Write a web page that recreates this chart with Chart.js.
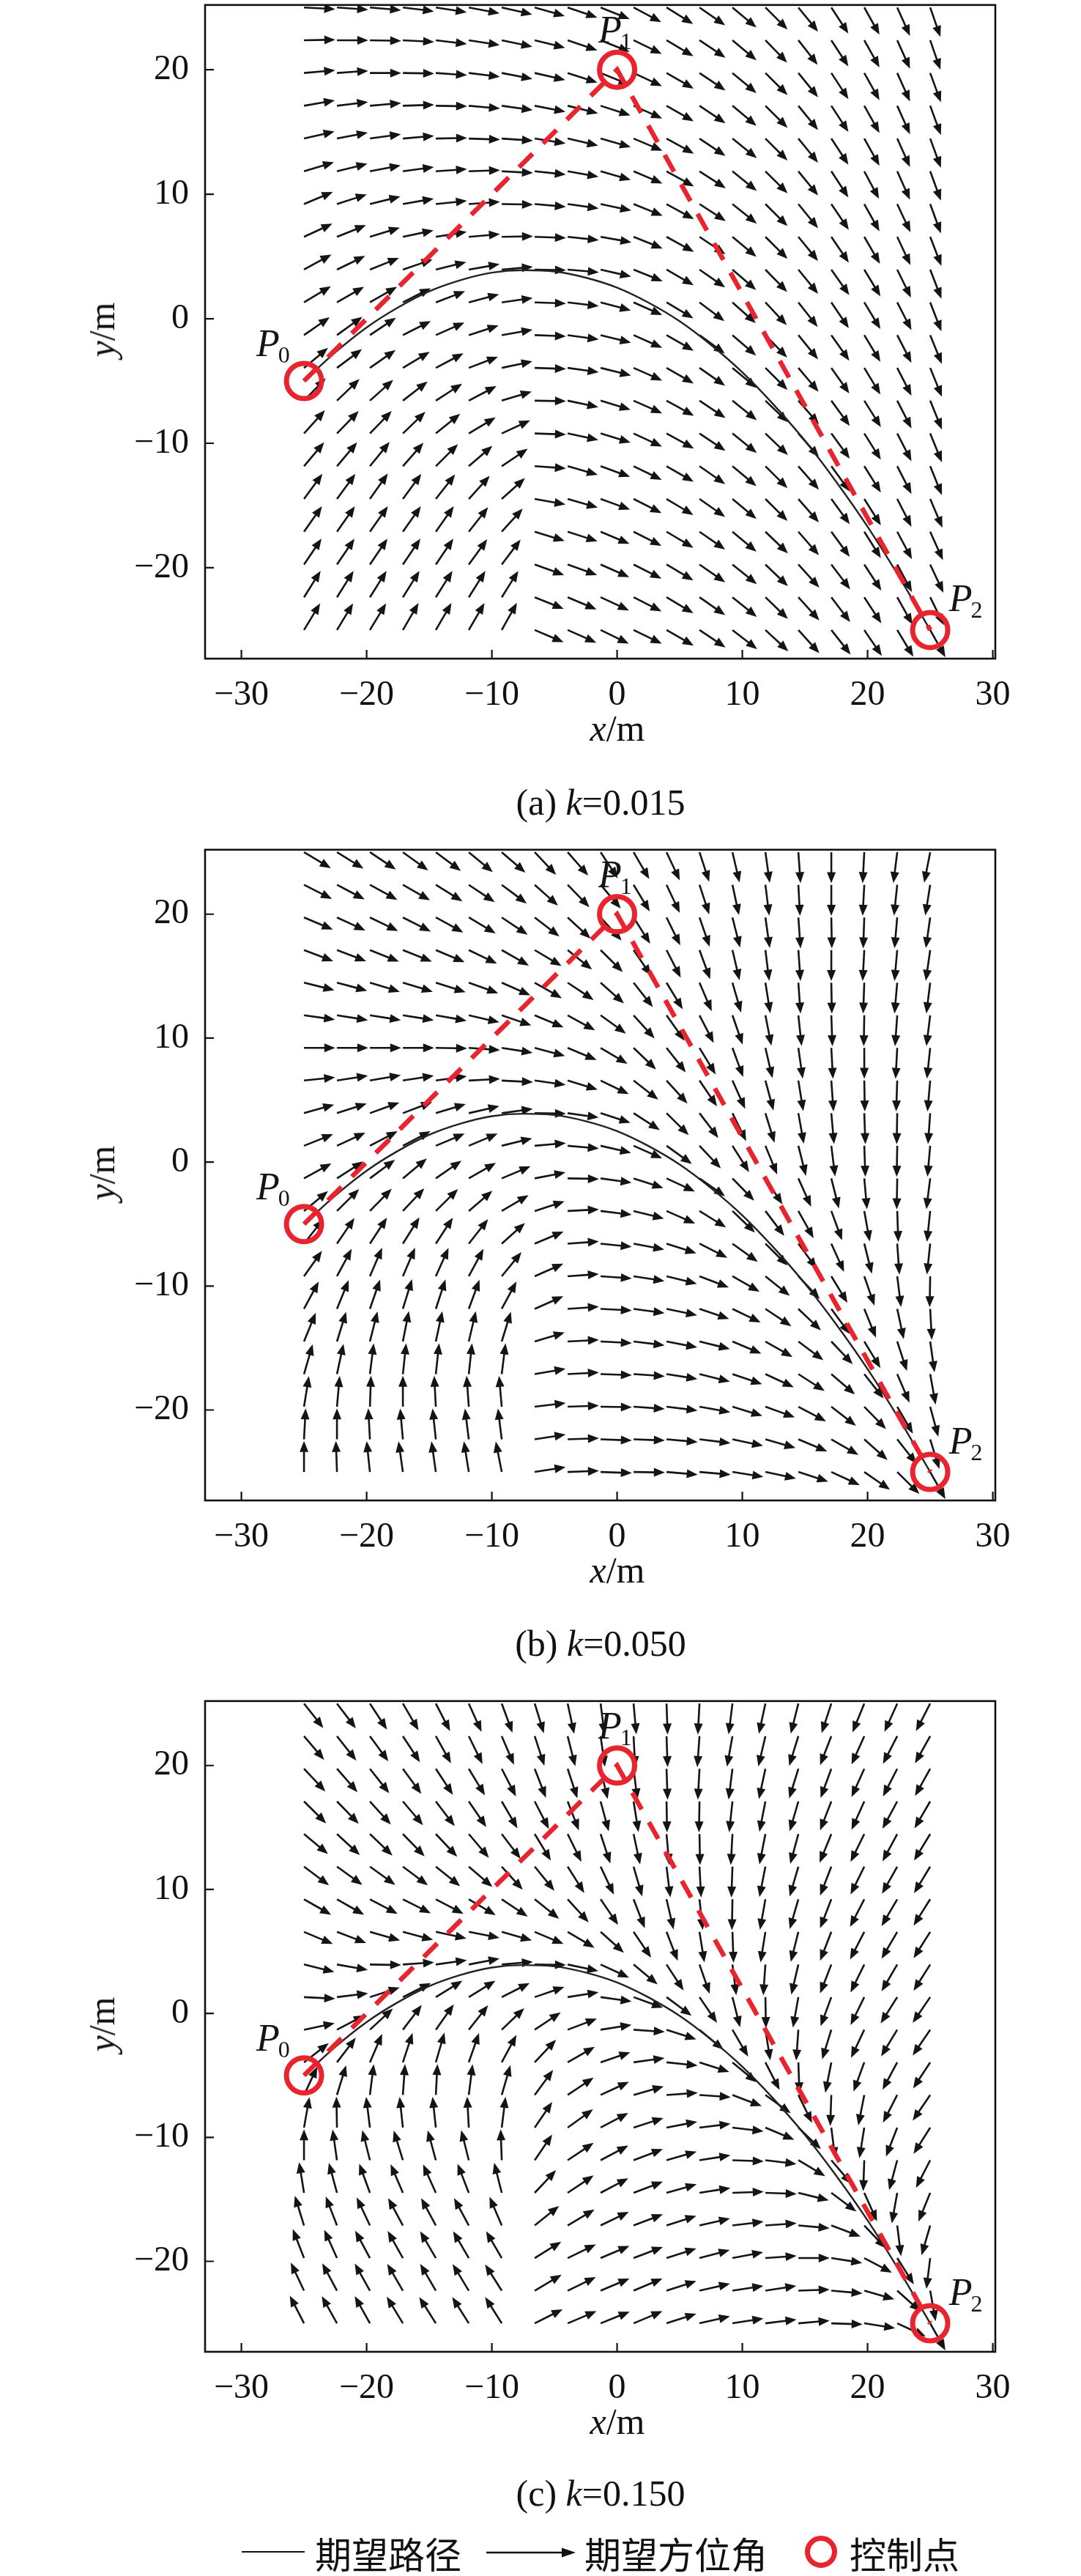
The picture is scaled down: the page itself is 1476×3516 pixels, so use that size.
<!DOCTYPE html>
<html>
<head>
<meta charset="utf-8">
<script src="https://cdn.jsdelivr.net/npm/chart.js@4.4.1/dist/chart.umd.min.js"></script>
<style>
  html, body { margin: 0; padding: 0; background: #fff; }
  body { width: 1476px; height: 3516px; position: relative; overflow: hidden;
         font-family: 'Liberation Serif', 'Times New Roman', serif; color: #111; }
  .panel { position: absolute; left: 0; width: 1476px; }
  .txt { position: absolute; font-size: 50px; white-space: nowrap; transform: translate(-50%, -50%); }
  .ylab { transform: translate(-50%, -50%) rotate(-90deg); }
  .cjk { position: absolute; font-family: 'Noto Sans CJK SC', sans-serif; font-size: 50px; line-height: 1; transform: translateY(-50%); white-space: nowrap; }
</style>
</head>
<body>

<div class="panel" id="pa"><canvas id="ca"></canvas></div>
<div class="panel" id="pb"><canvas id="cb"></canvas></div>
<div class="panel" id="pc"><canvas id="cc"></canvas></div>

<div class="txt" style="left:843px;top:994px"><i>x</i>/m</div>
<div class="txt ylab" style="left:139px;top:450px"><i>y</i>/m</div>
<div class="txt" style="left:820px;top:1095px">(a) <i>k</i>=0.015</div>

<div class="txt" style="left:843px;top:2143px"><i>x</i>/m</div>
<div class="txt ylab" style="left:139px;top:1601px"><i>y</i>/m</div>
<div class="txt" style="left:820px;top:2243px">(b) <i>k</i>=0.050</div>

<div class="txt" style="left:843px;top:3305px"><i>x</i>/m</div>
<div class="txt ylab" style="left:139px;top:2763px"><i>y</i>/m</div>
<div class="txt" style="left:820px;top:3403px">(c) <i>k</i>=0.150</div>

<!-- legend -->
<div style="position:absolute;left:330px;top:3482px;width:86px;border-top:2px solid #111"></div>
<div class="cjk" style="left:430px;top:3484px">期望路径</div>
<svg style="position:absolute;left:662px;top:3470px" width="126" height="28">
  <line x1="2" y1="14" x2="108" y2="14" stroke="#111" stroke-width="2.6"/>
  <polygon points="124,14 105,7.5 105,20.5" fill="#111"/>
</svg>
<div class="cjk" style="left:798px;top:3484px">期望方位角</div>
<div style="position:absolute;left:1099px;top:3461px;width:30px;height:30px;border:7px solid #e8242e;border-radius:50%"></div>
<div class="cjk" style="left:1160px;top:3484px">控制点</div>

<script>
// grid of arrow tails (x left to right, y top to bottom)
const gridX = [-25, -22.368, -19.737, -17.105, -14.474, -11.842, -9.211, -6.579, -3.947, -1.316,
               1.316, 3.947, 6.579, 9.211, 11.842, 14.474, 17.105, 19.737, 22.368, 25];
const gridY = [25, 22.368, 19.737, 17.105, 14.474, 11.842, 9.211, 6.579, 3.947, 1.316,
               -1.316, -3.947, -6.579, -9.211, -11.842, -14.474, -17.105, -19.737, -22.368, -25];

// desired heading (deg, counter-clockwise from +x), one row per gridY value
const headingA = [
  [-3,-4,-5,-7,-9,-11,-13,-16,-19,-22,-28,-32,-35,-40,-45,-51,-57,-61,-66,-71],
  [1,0,-1,-3,-7,-9,-12,-14,-19,-22,-26,-31,-34,-40,-46,-52,-57,-61,-66,-71],
  [5,4,0,-1,-4,-7,-11,-13,-18,-22,-25,-30,-34,-40,-45,-51,-57,-61,-66,-70],
  [10,7,5,2,-1,-5,-8,-11,-14,-18,-24,-30,-34,-40,-45,-51,-57,-61,-66,-70],
  [13,11,8,5,1,-2,-4,-9,-13,-16,-23,-29,-34,-39,-45,-51,-57,-61,-66,-70],
  [17,14,11,8,4,2,-3,-6,-10,-16,-23,-29,-33,-39,-45,-51,-57,-62,-66,-70],
  [23,18,14,10,6,4,-1,-5,-8,-12,-22,-29,-33,-39,-45,-51,-56,-61,-65,-70],
  [25,22,17,12,9,5,1,-2,-6,-10,-22,-29,-34,-40,-45,-51,-56,-60,-65,-69],
  [29,26,22,19,14,10,5,-1,-5,-13,-22,-30,-35,-41,-46,-51,-55,-59,-64,-69],
  [31,30,30,27,21,15,8,-2,-7,-15,-24,-31,-37,-42,-47,-52,-56,-59,-63,-69],
  [35,36,34,27,24,18,10,-2,-8,-14,-24,-30,-36,-41,-46,-51,-55,-59,-63,-68],
  [40,37,35,31,28,21,12,-2,-8,-14,-24,-30,-35,-40,-45,-50,-55,-59,-63,-68],
  [46,44,42,38,33,28,17,-1,-12,-17,-24,-29,-34,-39,-44,-49,-54,-58,-63,-68],
  [48,46,46,44,39,31,25,-2,-12,-17,-25,-29,-34,-39,-44,-49,-54,-58,-63,-68],
  [50,50,51,49,45,41,34,-4,-16,-20,-26,-30,-35,-40,-45,-49,-54,-58,-63,-68],
  [54,54,55,54,52,48,42,-10,-16,-20,-27,-31,-35,-40,-45,-49,-54,-58,-63,-67],
  [55,55,55,55,55,52,48,-17,-18,-23,-27,-31,-35,-40,-44,-49,-54,-58,-62,-66],
  [56,56,56,56,56,54,53,-20,-20,-24,-27,-31,-35,-39,-44,-48,-53,-57,-62,-65],
  [58,58,58,58,58,58,58,-22,-23,-25,-27,-31,-35,-39,-44,-48,-53,-57,-61,-64],
  [59,59,59,60,60,60,61,-23,-24,-26,-26,-30,-34,-38,-43,-48,-52,-56,-59,-61]
];
const headingB = [
  [-31,-32,-34,-36,-37,-40,-41,-47,-49,-57,-60,-65,-72,-77,-82,-86,-90,-93,-97,-101],
  [-27,-28,-29,-30,-32,-34,-37,-42,-46,-50,-59,-65,-72,-78,-83,-87,-90,-93,-96,-99],
  [-23,-25,-26,-27,-29,-31,-34,-38,-43,-48,-58,-64,-71,-76,-82,-86,-89,-92,-95,-98],
  [-21,-21,-22,-22,-23,-26,-30,-31,-39,-45,-56,-63,-70,-77,-83,-86,-90,-93,-95,-98],
  [-14,-15,-17,-17,-18,-20,-24,-30,-34,-42,-52,-59,-67,-74,-81,-86,-89,-92,-95,-97],
  [-8,-9,-9,-9,-10,-13,-19,-23,-29,-36,-48,-55,-63,-71,-79,-84,-88,-91,-94,-97],
  [0,0,0,0,-1,-4,-9,-15,-23,-31,-44,-52,-59,-70,-77,-82,-87,-90,-93,-96],
  [6,9,10,9,8,3,-3,-8,-17,-26,-38,-48,-56,-66,-75,-81,-86,-89,-92,-95],
  [16,18,20,21,17,13,8,-1,-8,-18,-33,-45,-53,-64,-73,-80,-85,-88,-91,-94],
  [22,25,28,28,23,23,14,5,-5,-13,-24,-36,-47,-58,-68,-76,-83,-88,-91,-95],
  [29,33,37,40,35,30,23,11,-1,-8,-18,-25,-35,-46,-57,-66,-76,-85,-91,-97],
  [40,45,46,47,45,41,31,18,3,-7,-14,-24,-32,-44,-53,-61,-70,-80,-88,-96],
  [52,56,57,58,57,52,42,23,4,-6,-11,-18,-27,-36,-45,-54,-66,-76,-86,-96],
  [55,62,67,67,66,62,51,24,4,-4,-9,-14,-21,-30,-39,-47,-59,-71,-83,-91],
  [62,68,71,73,72,70,62,24,4,-3,-8,-12,-19,-26,-34,-44,-54,-68,-78,-87],
  [68,73,76,79,78,77,73,17,3,-3,-7,-11,-14,-23,-30,-37,-47,-59,-72,-82],
  [74,78,83,84,84,84,83,10,3,-2,-4,-9,-14,-19,-25,-33,-41,-52,-67,-80],
  [81,85,88,90,93,94,95,7,2,-1,-4,-7,-10,-17,-20,-28,-38,-46,-60,-75],
  [87,90,93,95,96,97,97,9,2,-2,-2,-5,-7,-12,-16,-23,-30,-42,-52,-73],
  [90,92,96,98,98,99,101,9,2,-2,-1,-5,-5,-9,-12,-18,-25,-35,-45,-61]
];
const headingC = [
  [-52,-53,-57,-60,-63,-66,-70,-73,-78,-83,-85,-88,-93,-97,-102,-104,-108,-112,-114,-117],
  [-50,-52,-54,-57,-61,-64,-67,-72,-76,-82,-87,-88,-94,-100,-103,-107,-111,-114,-117,-119],
  [-47,-49,-52,-54,-57,-59,-63,-69,-72,-77,-83,-88,-93,-97,-102,-107,-110,-114,-117,-119],
  [-45,-46,-48,-50,-53,-56,-60,-63,-69,-75,-81,-89,-91,-96,-101,-106,-111,-114,-118,-120],
  [-40,-43,-44,-46,-47,-50,-53,-59,-64,-72,-78,-85,-89,-93,-101,-105,-112,-116,-118,-121],
  [-37,-36,-36,-37,-39,-41,-48,-51,-58,-65,-74,-83,-87,-92,-101,-106,-111,-116,-119,-121],
  [-30,-30,-28,-27,-28,-31,-34,-39,-48,-56,-69,-77,-84,-91,-100,-106,-111,-117,-120,-122],
  [-23,-21,-16,-15,-12,-11,-16,-23,-31,-42,-56,-69,-81,-88,-99,-104,-111,-117,-120,-122],
  [-14,-10,-1,4,8,11,5,-1,-12,-25,-40,-57,-71,-83,-94,-103,-111,-116,-120,-122],
  [-3,7,18,27,32,32,27,19,9,-8,-20,-37,-56,-76,-89,-100,-110,-116,-122,-124],
  [12,28,43,53,55,52,44,34,21,9,-4,-18,-40,-60,-81,-94,-107,-115,-121,-124],
  [38,53,67,72,74,71,62,47,30,19,8,-6,-18,-40,-63,-88,-101,-110,-118,-123],
  [65,73,83,86,87,83,74,54,34,25,16,4,-4,-21,-36,-64,-92,-101,-117,-124],
  [80,91,97,96,96,93,83,56,36,28,18,11,7,-7,-23,-44,-83,-99,-111,-122],
  [90,98,104,107,105,104,92,56,34,28,21,16,9,-2,-7,-31,-50,-92,-105,-117],
  [99,105,110,113,114,111,104,47,34,28,21,16,9,2,-2,-14,-37,-66,-100,-112],
  [107,111,115,118,118,118,113,39,31,26,21,18,13,7,4,-5,-21,-47,-83,-106],
  [111,114,118,119,120,120,120,32,26,23,21,18,15,11,4,0,-9,-28,-58,-97],
  [115,118,119,120,120,121,122,31,26,23,23,18,13,9,9,2,-5,-16,-42,-80],
  [117,119,119,121,122,122,122,27,23,22,23,18,13,9,7,5,-2,-9,-25,-61]
];

// desired path
const pathX = [-25, -22.5, -20, -17.5, -15, -12.5, -10, -7.5, -5, -2.5, 0, 2.5, 5, 7.5, 10, 12.5, 15, 17.5, 20, 22.5, 25];
const pathY = [-5, -2.7, -0.7, 0.9, 2.2, 3.1, 3.7, 3.9, 3.8, 3.3, 2.5, 1.3, -0.2, -2.1, -4.3, -6.9, -9.8, -13.1, -16.7, -20.7, -25];

// control points P0, P1, P2
const ctrlX = [-25, 0, 25];
const ctrlY = [-5, 20, -25];
const ctrlName = ['0', '1', '2'];

const xTicks = [-30, -20, -10, 0, 10, 20, 30];
const yTicks = [20, 10, 0, -10, -20];

const RED = '#e8242e';
const INK = '#141414';
const ARROW_LEN = 2.5;          // data units
const LABEL_AT = [[-28.8, -3.0], [-1.5, 22.2], [26.5, -23.5]];   // "P" text anchors

const panels = [
  { box: 'pa', canvas: 'ca', top: 0,    h: 899, heading: headingA },
  { box: 'pb', canvas: 'cb', top: 1153, h: 895, heading: headingB },
  { box: 'pc', canvas: 'cc', top: 2315, h: 895, heading: headingC }
];
const PAD_TOP = 36, X_AXIS_H = 70;

function drawArrow(ctx, x0, y0, x1, y1) {
  const dx = x1 - x0, dy = y1 - y0;
  const len = Math.hypot(dx, dy);
  const ux = dx / len, uy = dy / len;
  const hl = 15, hw = 6;
  const bx = x1 - ux * hl, by = y1 - uy * hl;
  ctx.beginPath();
  ctx.moveTo(x0, y0);
  ctx.lineTo(bx + ux * 2, by + uy * 2);
  ctx.stroke();
  ctx.beginPath();
  ctx.moveTo(x1, y1);
  ctx.lineTo(bx - uy * hw, by + ux * hw);
  ctx.lineTo(bx + uy * hw, by - ux * hw);
  ctx.closePath();
  ctx.fill();
}

function quiver(heading) {
  return {
    id: 'quiver',
    beforeDatasetsDraw(chart) {
      const { ctx, chartArea: a, scales: { x, y } } = chart;
      ctx.save();
      ctx.beginPath();
      ctx.rect(a.left, a.top, a.right - a.left, a.bottom - a.top);
      ctx.clip();
      ctx.strokeStyle = INK;
      ctx.fillStyle = INK;
      ctx.lineWidth = 2.6;
      heading.forEach((row, j) => {
        row.forEach((deg, i) => {
          const r = deg * Math.PI / 180;
          const x0 = x.getPixelForValue(gridX[i]);
          const y0 = y.getPixelForValue(gridY[j]);
          const x1 = x.getPixelForValue(gridX[i] + ARROW_LEN * Math.cos(r));
          const y1 = y.getPixelForValue(gridY[j] + ARROW_LEN * Math.sin(r));
          drawArrow(ctx, x0, y0, x1, y1);
        });
      });
      ctx.restore();
    }
  };
}

const frame = {
  id: 'frame',
  afterDatasetsDraw(chart) {
    const { ctx, chartArea: a, scales: { x, y } } = chart;
    ctx.save();
    // P labels
    ctx.fillStyle = INK;
    ctx.textBaseline = 'alphabetic';
    LABEL_AT.forEach((p, k) => {
      const px = x.getPixelForValue(p[0]);
      const py = y.getPixelForValue(p[1]);
      ctx.font = 'italic 52px "Liberation Serif"';
      ctx.fillText('P', px, py);
      const w = ctx.measureText('P').width;
      ctx.font = '32px "Liberation Serif"';
      ctx.fillText(ctrlName[k], px + w - 2, py + 9);
    });
    // box and inward ticks
    ctx.strokeStyle = '#111';
    ctx.lineWidth = 2.6;
    ctx.strokeRect(a.left, a.top, a.right - a.left, a.bottom - a.top);
    ctx.lineWidth = 2.2;
    ctx.beginPath();
    xTicks.forEach(v => {
      const px = x.getPixelForValue(v);
      ctx.moveTo(px, a.bottom);
      ctx.lineTo(px, a.bottom - 12);
    });
    yTicks.forEach(v => {
      const py = y.getPixelForValue(v);
      ctx.moveTo(a.left, py);
      ctx.lineTo(a.left + 12, py);
    });
    ctx.stroke();
    ctx.restore();
  }
};

const tickFont = { family: 'Liberation Serif', size: 48 };
const minus = v => String(v).replace('-', '\u2212');

panels.forEach(p => {
  const box = document.getElementById(p.box);
  box.style.top = (p.top - PAD_TOP) + 'px';
  box.style.height = (p.h + PAD_TOP + X_AXIS_H) + 'px';

  const ctrlPts = ctrlX.map((v, i) => ({ x: v, y: ctrlY[i] }));
  const pathPts = pathX.map((v, i) => ({ x: v, y: pathY[i] }));

  new Chart(document.getElementById(p.canvas), {
    type: 'scatter',
    data: {
      datasets: [
        {
          label: '控制点', data: ctrlPts, showLine: false,
          pointRadius: 24, pointHoverRadius: 24, pointBorderWidth: 7,
          pointBorderColor: RED, pointBackgroundColor: 'rgba(0,0,0,0)', order: 0
        },
        {
          label: 'control polygon', data: ctrlPts, showLine: true,
          borderColor: RED, borderWidth: 6.5, borderDash: [26, 20],
          pointRadius: 0, order: 1
        },
        {
          label: '期望路径', data: pathPts, showLine: true,
          borderColor: '#222', borderWidth: 2.4, pointRadius: 0,
          cubicInterpolationMode: 'monotone', order: 2
        }
      ]
    },
    options: {
      responsive: true,
      maintainAspectRatio: false,
      animation: false,
      devicePixelRatio: 1,
      events: [],
      layout: { padding: { top: PAD_TOP, right: 117, left: 0, bottom: 0 } },
      plugins: { legend: { display: false }, tooltip: { enabled: false } },
      scales: {
        x: {
          type: 'linear', min: -32.9, max: 30.2,
          grid: { display: false }, border: { display: false },
          ticks: { font: tickFont, color: '#111', padding: 14, maxRotation: 0, autoSkip: false, callback: minus },
          afterBuildTicks: s => { s.ticks = xTicks.map(v => ({ value: v })); },
          afterFit: s => { s.height = X_AXIS_H; }
        },
        y: {
          type: 'linear', min: -27.3, max: 25.2,
          grid: { display: false }, border: { display: false },
          ticks: { font: tickFont, color: '#111', padding: 14, autoSkip: false, callback: minus },
          afterBuildTicks: s => { s.ticks = yTicks.map(v => ({ value: v })); },
          afterFit: s => { s.width = 280; }
        }
      }
    },
    plugins: [quiver(p.heading), frame]
  });
});
</script>
</body>
</html>
